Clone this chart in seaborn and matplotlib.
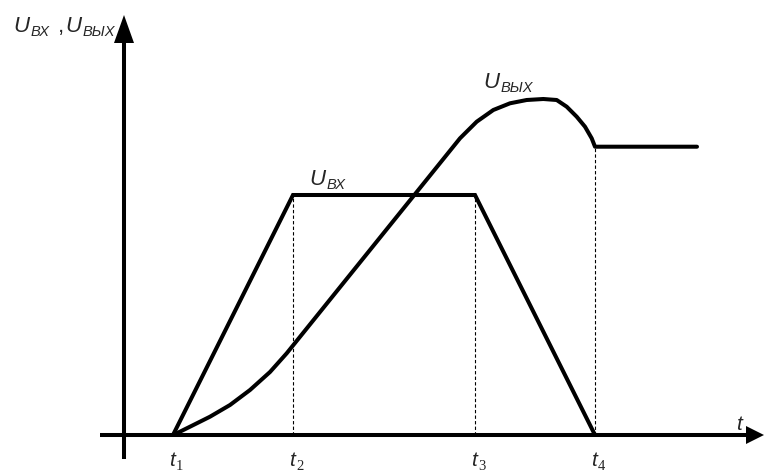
import matplotlib
matplotlib.use("Agg")
import matplotlib.pyplot as plt
import seaborn as sns
import pandas as pd

# time marks and curves (units: 1 = 10 px of the original drawing)
t_marks = [4.9, 16.9, 35.1, 47.1]
t_names = ["1", "2", "3", "4"]

u_in_t = [4.9, 16.9, 35.1, 47.1]
u_in_v = [0.0, 24.0, 24.0, 0.0]

u_out_t = [4.93, 6.6, 8.6, 10.6, 12.6, 14.6, 16.27, 17.1, 18.27,
           33.6, 35.27, 36.93, 38.6, 40.27, 41.93, 43.27, 44.27, 45.27,
           46.1, 46.77, 47.1, 57.3]
u_out_v = [0.0, 0.83, 1.83, 3.0, 4.5, 6.3, 8.17, 9.2, 10.65,
           29.67, 31.33, 32.5, 33.17, 33.5, 33.6, 33.5, 32.83, 31.83,
           30.83, 29.67, 28.83, 28.83]

# dashed drop lines go up to the level of the curves at t2, t3, t4
drop_t = [16.9, 35.1, 47.1]
drop_v = [24.0, 24.0, 28.83]

x_axis = (-2.4, 64.0)
y_axis = (-2.4, 42.0)

sns.set_style("white")
plt.rcParams["font.family"] = ["Liberation Sans", "DejaVu Sans"]

fig = plt.figure(figsize=(7.64, 4.73), dpi=100)
ax = fig.add_axes([0, 0, 1, 1])
ax.set_xlim(-12.4, 64.0)
ax.set_ylim(-3.8, 43.5)
ax.axis("off")

lw = 2.9

# axes with arrows
ax.plot([x_axis[0], 62.3], [0, 0], color="black", lw=lw, solid_capstyle="butt")
ax.fill([62.2, x_axis[1], 62.2], [0.9, 0, -0.9], color="black", lw=0)
ax.plot([0, 0], [y_axis[0], 39.3], color="black", lw=lw, solid_capstyle="butt")
ax.fill([-1.0, 0, 1.0], [39.2, y_axis[1], 39.2], color="black", lw=0)

# dashed verticals
for t, v in zip(drop_t, drop_v):
    ax.plot([t, t], [0, v], color="black", lw=0.8, ls=(0, (3, 2)))

df_in = pd.DataFrame({"t": u_in_t, "u": u_in_v})
df_out = pd.DataFrame({"t": u_out_t, "u": u_out_v})
sns.lineplot(data=df_in, x="t", y="u", sort=False, color="black", lw=lw, ax=ax,
             solid_joinstyle="miter")
sns.lineplot(data=df_out, x="t", y="u", sort=False, color="black", lw=lw, ax=ax,
             solid_joinstyle="round")


def u_label(x, y, sub):
    main = ax.text(x, y, "U", fontsize=16, style="italic", ha="left", va="baseline")
    ax.annotate(sub, xy=(1, 0), xycoords=main, xytext=(0.8, 0.5),
                textcoords="offset points", fontsize=10.5, style="italic",
                ha="left", va="baseline")


u_label(-11.1, 40.3, "ВХ")
ax.text(-6.6, 40.3, ",", fontsize=16, ha="left", va="baseline")
u_label(-5.9, 40.3, "ВЫХ")
u_label(18.5, 25.0, "ВХ")
u_label(35.9, 34.7, "ВЫХ")

ax.text(61.2, 0.5, "t", fontsize=15, style="italic", ha="left", va="baseline")
for t, n in zip(t_marks, t_names):
    ax.text(t - 0.1, -3.05, "t", fontsize=15, style="italic", ha="center", va="baseline")
    ax.text(t + 0.3, -3.5, n, fontsize=10.5, family="Liberation Serif",
            ha="left", va="baseline")

fig.savefig("out.png", dpi=100)
